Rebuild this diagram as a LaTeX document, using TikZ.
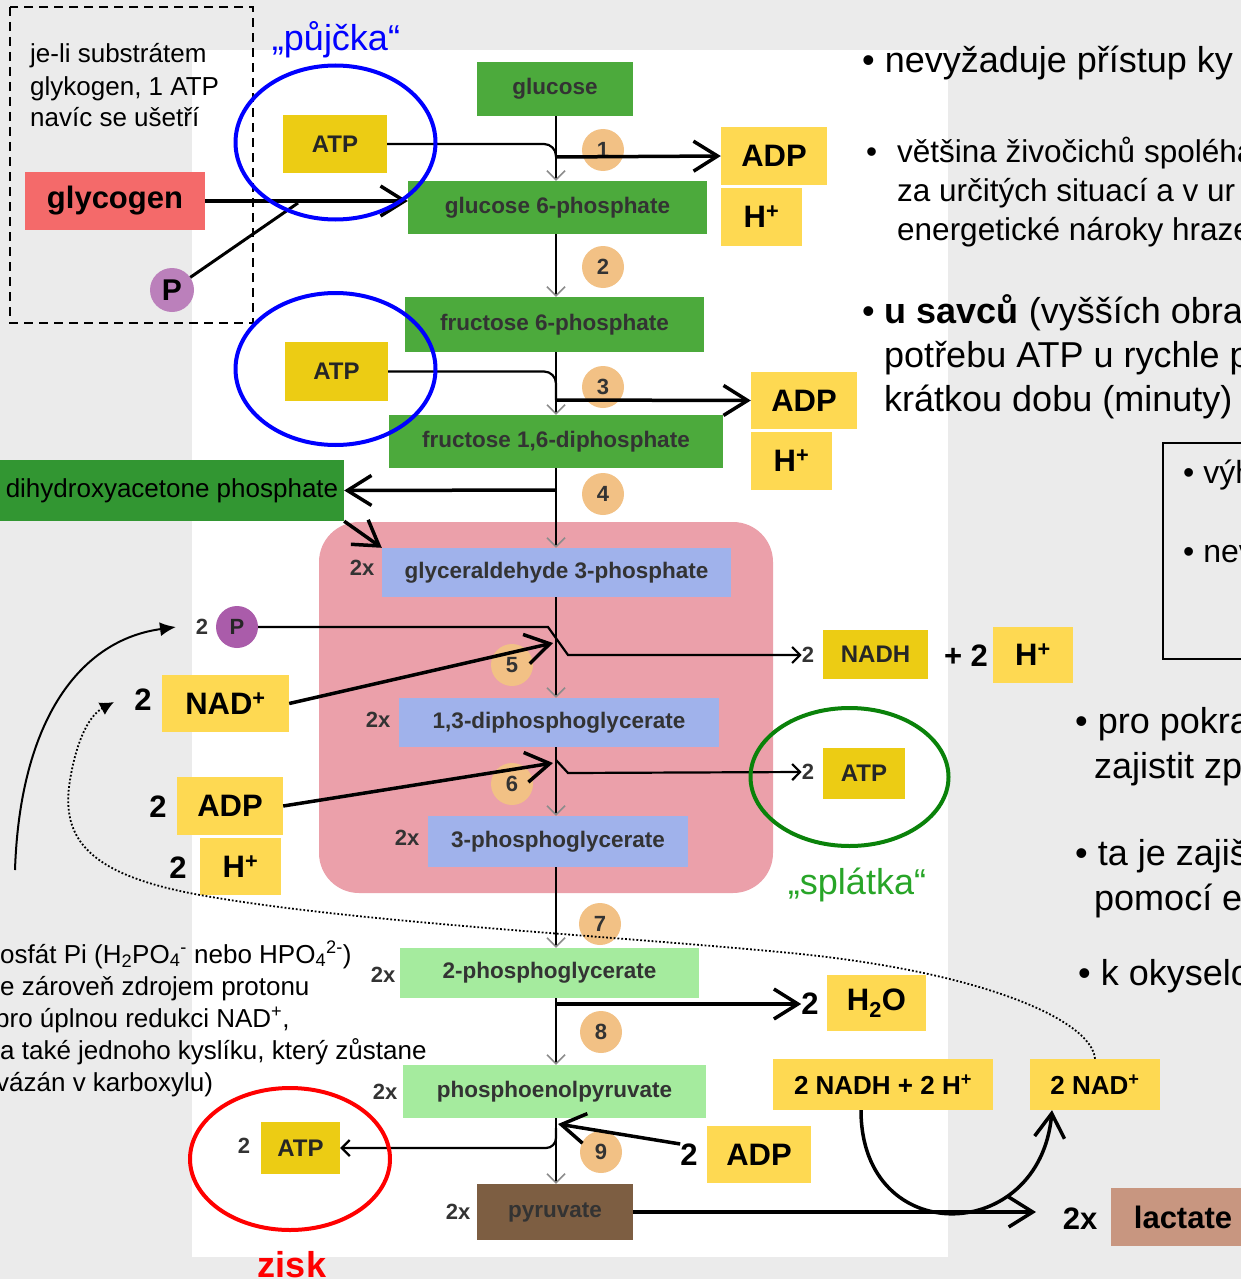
\documentclass[tikz,border=0pt]{standalone}
\usepackage{fontspec}
\setmainfont{Liberation Sans}
\usetikzlibrary{arrows.meta}

\definecolor{bggray}{RGB}{235,235,235}
\definecolor{glcgreen}{RGB}{76,170,60}
\definecolor{dhapgreen}{RGB}{50,150,50}
\definecolor{pinkbg}{RGB}{235,160,170}
\definecolor{lavender}{RGB}{160,178,235}
\definecolor{palegreen}{RGB}{165,235,158}
\definecolor{pyrbrown}{RGB}{125,94,66}
\definecolor{salmon}{RGB}{244,106,106}
\definecolor{lightyel}{RGB}{254,217,82}
\definecolor{darkyel}{RGB}{236,204,20}
\definecolor{steporange}{RGB}{242,193,133}
\definecolor{plum}{RGB}{187,128,187}
\definecolor{violetp}{RGB}{170,92,170}
\definecolor{lactan}{RGB}{200,150,128}
\definecolor{ringgreen}{RGB}{10,130,10}
\definecolor{splgreen}{RGB}{40,165,40}

\tikzset{
  wh/.style 2 args={minimum width=#1pt, minimum height=#2pt},
  metab/.style={inner sep=0pt, text=black!80, font=\fontsize{22.5}{26}\selectfont\bfseries},
  cofbig/.style={inner sep=0pt, fill=lightyel, font=\fontsize{31}{36}\selectfont\bfseries},
  cofsmall/.style={inner sep=0pt, fill=darkyel, text=black!85, font=\fontsize{24}{28}\selectfont\bfseries},
  stepno/.style={circle, fill=steporange, minimum size=42pt, inner sep=0pt, text=black!80,
    font=\fontsize{22}{26}\selectfont\bfseries},
  lbl/.style={inner sep=0pt, font=\fontsize{#1}{#1}\selectfont\bfseries},
  txt/.style={inner sep=0pt, anchor=base west, font=\fontsize{#1}{#1}\selectfont},
  spine/.style={line width=2pt, -{Straight Barb[length=9pt,width=18pt,line width=1.5pt,color=black!45]}},
  feed/.style={line width=2.2pt},
  thinarr/.style={line width=2.2pt, -{Straight Barb[length=8pt,width=16pt]}},
  heavy/.style={line width=3.5pt, -{Straight Barb[length=24pt,width=30pt]}},
  ring/.style={line width=4pt}
}

\begin{document}
\begin{tikzpicture}[x=1pt,y=-1pt]
  \useasboundingbox (0,0) rectangle (1241,1279);
  \clip (0,0) rectangle (1241,1279);
  \fill[bggray] (0,0) rectangle (1241,1279);
  \fill[white] (192,50) rectangle (948,1257);
  \fill[pinkbg, rounded corners=40pt] (319,522) rectangle (773,893);
  \draw[line width=2.6pt, dash pattern=on 9pt off 6pt] (10,7) rectangle (253,323);

  \foreach \yb/\t [count=\i] in {63/je-li substrátem, 95.5/{glykogen, 1 ATP}, 127/navíc se ušetří}
    \node[txt=26] (note\i) at (30,\yb) {\t};

  \node[metab, fill=glcgreen, wh={156}{54}] (glc) at (555,89) {glucose};
  \node[metab, fill=glcgreen, wh={299}{53}] (g6p) at (557.5,207.5) {glucose 6-phosphate};
  \node[metab, fill=glcgreen, wh={299}{55}] (f6p) at (554.5,324.5) {fructose 6-phosphate};
  \node[metab, fill=glcgreen, wh={334}{53}] (f16) at (556,441.5) {fructose 1,6-diphosphate};
  \node[inner sep=0pt, fill=dhapgreen, wh={344}{61}, font=\fontsize{26}{30}\selectfont] (dhap) at (172,490.5) {dihydroxyacetone phosphate};
  \node[metab, fill=lavender, wh={349}{49}] (g3p) at (556.5,572.5) {glyceraldehyde 3-phosphate};
  \node[metab, fill=lavender, wh={320}{49}] (dpg) at (559,722.5) {1,3-diphosphoglycerate};
  \node[metab, fill=lavender, wh={260}{51}] (pg3) at (558,841.5) {3-phosphoglycerate};
  \node[metab, fill=palegreen, wh={299}{50}] (pg2) at (549.5,973) {2-phosphoglycerate};
  \node[metab, fill=palegreen, wh={303}{53}] (pep) at (554.5,1091.5) {phosphoenolpyruvate};
  \node[metab, fill=pyrbrown, wh={156}{56}] (pyr) at (555,1212) {pyruvate};

  \foreach \x/\y [count=\i] in {362/568, 378/720, 407/838, 383/975, 385/1092, 458/1212}
    \node[lbl=22, text=black!80] (twox\i) at (\x,\y) {2x};

  \node[inner sep=0pt, fill=salmon, wh={180}{58}, font=\fontsize{31}{36}\selectfont\bfseries] (glycogen) at (115,201) {glycogen};
  \node[circle, fill=plum, minimum size=44pt, inner sep=0pt, font=\fontsize{30}{34}\selectfont\bfseries] (p1) at (172,290) {P};
  \node[cofsmall, wh={104}{58}] (atp1) at (335,144) {ATP};
  \node[cofsmall, wh={103}{59}] (atp2) at (336.5,371.5) {ATP};
  \node[cofbig, wh={106}{58}] (adp1) at (774,156) {ADP};
  \node[cofbig, wh={81}{58}] (hp1) at (761.5,217) {H\textsuperscript{+}};
  \node[cofbig, wh={106}{57}] (adp2) at (804,400.5) {ADP};
  \node[cofbig, wh={81}{58}] (hp2) at (791.5,461) {H\textsuperscript{+}};

  \node[lbl=22, text=black!80] (two5p) at (202,627) {2};
  \node[circle, fill=violetp, minimum size=42pt, inner sep=0pt, text=black!85, font=\fontsize{22}{26}\selectfont\bfseries] (p5) at (237,627) {P};
  \node[lbl=31] (two5n) at (143,700) {2};
  \node[cofbig, wh={127}{57}] (nad5) at (225.5,703.5) {NAD\textsuperscript{+}};
  \node[lbl=22, text=black!80] (two5) at (808,655) {2};
  \node[cofsmall, wh={105}{49}] (nadh5) at (875.5,654.5) {NADH};
  \node[lbl=31] (plus5) at (966,656) {+ 2};
  \node[cofbig, wh={80}{56}] (hp5) at (1033,655) {H\textsuperscript{+}};

  \node[lbl=31] (two6a) at (158,807) {2};
  \node[cofbig, wh={106}{58}] (adp6) at (230,806) {ADP};
  \node[lbl=31] (two6h) at (178,868) {2};
  \node[cofbig, wh={81}{57}] (hp6) at (240.5,866.5) {H\textsuperscript{+}};
  \node[lbl=22, text=black!80] (two6) at (808,772) {2};
  \node[cofsmall, wh={82}{51}] (atp6) at (864,773.5) {ATP};

  \node[lbl=31] (two8) at (810,1004) {2};
  \node[cofbig, wh={99}{56}] (h2o) at (876.5,1003) {H\textsubscript{2}O};
  \node[lbl=31] (two9) at (689,1155) {2};
  \node[cofbig, wh={104}{57}] (adp9) at (759,1154.5) {ADP};
  \node[lbl=22, text=black!80] (two9a) at (244,1146) {2};
  \node[cofsmall, wh={79}{52}] (atp9) at (300.5,1148) {ATP};

  \node[cofbig, wh={220}{51}, font=\fontsize{26}{30}\selectfont\bfseries] (nadh2) at (883,1084.5) {2 NADH + 2 H\textsuperscript{+}};
  \node[cofbig, wh={130}{51}, font=\fontsize{26}{30}\selectfont\bfseries] (nadp2) at (1095,1084.5) {2 NAD\textsuperscript{+}};
  \node[lbl=31] (two10) at (1080,1219) {2x};
  \node[inner sep=0pt, fill=lactan, wh={144}{58}, font=\fontsize{31}{36}\selectfont\bfseries] (lac) at (1183,1217) {lactate};

  \foreach \n/\x/\y in {1/603/150, 2/603/267, 3/603/387, 4/603/494, 5/512/665, 6/512/784, 7/600/924, 8/601/1032, 9/601/1152}
    \node[stepno] (st\n) at (\x,\y) {\n};

  \coordinate (sp) at (556,0);
  \foreach \a/\b in {glc/g6p, g6p/f6p, f6p/f16, f16/g3p, g3p/dpg, dpg/pg3, pg3/pg2, pg2/pep, pep/pyr}
    \draw[spine] (\a.south -| sp) -- (\b.north -| sp);

  \coordinate (pj) at (298,203);
  \draw[heavy] (glycogen.east) -- (glycogen.east -| g6p.west);
  \draw[line width=3pt] (p1) -- (pj);

  \coordinate (s1) at (556,157);
  \draw[feed, rounded corners=12pt] (atp1.east) -| (s1);
  \draw[heavy] (s1) -- (adp1.west);
  \coordinate (s3) at (556,400);
  \draw[feed, rounded corners=12pt] (atp2.east) -| (s3);
  \draw[heavy] (s3) -- (adp2.west);
  \coordinate (s4) at (556,490);
  \draw[heavy] (s4) -- (dhap.east);
  \draw[heavy] (dhap.south east) -- (g3p.north west);

  \coordinate (s5a) at (548,627);
  \coordinate (s5b) at (568,655);
  \coordinate (s5c) at (553,643);
  \draw[thinarr] (p5.east) -- (s5a) -- (s5b) -- (two5.west);
  \draw[heavy] (nad5.east) -- (s5c);
  \coordinate (s6a) at (556,760);
  \coordinate (s6b) at (568,773);
  \coordinate (s6c) at (553,763);
  \draw[thinarr] (s6a) -- (s6b) -- (two6.west);
  \draw[heavy] (adp6.east) -- (s6c);
  \coordinate (s8) at (556,1004);
  \draw[heavy] (s8) -- (two8.west);
  \coordinate (s9a) at (556,1128);
  \coordinate (s9c) at (558,1124);
  \draw[thinarr, rounded corners=10pt] (s9a) |- (atp9.east);
  \draw[heavy] (two9.north west) -- (s9c);

  \coordinate (lacin) at (1036,1215);
  \draw[heavy] (pyr.east) -- (pyr.east -| lacin);
  \draw[heavy] ([xshift=-22pt]nadh2.south) .. controls (861,1250) and (1040,1245) .. ([xshift=-43pt]nadp2.south);

  \coordinate (pstart) at (15,870);
  \coordinate (pin) at (176,627);
  \draw[line width=2pt, -{Latex[length=16pt,width=14pt]}] (pstart) .. controls (20,720) and (80,640) .. (pin);
  \coordinate (nadin) at (114,702);
  \draw[line width=1.8pt, dotted, -{Latex[length=14pt,width=14pt]}] (nadp2.north)
    .. controls (1092,1020) and (980,970) .. (780,952)
    .. controls (600,935) and (350,922) .. (200,895)
    .. controls (90,875) and (60,840) .. (70,780)
    .. controls (77,738) and (90,715) .. (nadin);

  \draw[ring, blue] (335.5,142.5) ellipse [x radius=100pt, y radius=77pt];
  \draw[ring, blue] (335.5,369) ellipse [x radius=100pt, y radius=76pt];
  \draw[ring, ringgreen] (849.5,777) ellipse [x radius=99pt, y radius=69pt];
  \draw[ring, red] (290,1159) ellipse [x radius=100pt, y radius=71pt];

  \node[anchor=base, inner sep=0pt, text=blue, font=\fontsize{36}{40}\selectfont] (loan) at (336,51) {„půjčka“};
  \node[anchor=base, inner sep=0pt, text=splgreen, font=\fontsize{36}{40}\selectfont] (repay) at (857,894) {„splátka“};
  \node[anchor=base, inner sep=0pt, text=red, font=\fontsize{36}{40}\selectfont\bfseries] (gain) at (292,1277) {zisk};

  \foreach \x/\yb/\t [count=\i] in {862/73/{• nevyžaduje přístup ky}, 862/323/{• \textbf{u savců} (vyšších obra},
      884/367/{potřebu ATP u rychle p}, 884/411/{krátkou dobu (minuty)}, 1075/733/{• pro pokra},
      1094/778/{zajistit zp}, 1075/865/{• ta je zajiš}, 1094/910/{pomocí e}, 1078/985/{• k okyselo}}
    \node[txt=36] (rt\i) at (\x,\yb) {\t};
  \node[txt=31.5] (dot2) at (866,162) {•};
  \foreach \yb/\t [count=\i] in {162/většina živočichů spoléha, 201/za určitých situací a v ur, 240/energetické nároky hraze}
    \node[txt=31.5] (mid\i) at (897,\yb) {\t};
  \draw[line width=2.5pt] (1163,443) rectangle (1260,659);
  \node[txt=32] (bx1) at (1183,483) {• výh};
  \node[txt=32] (bx2) at (1183,562) {• nev};

  \foreach \x/\yb/\t [count=\i] in {0/963/{osfát Pi (H\textsubscript{2}PO\textsubscript{4}\textsuperscript{-} nebo HPO\textsubscript{4}\textsuperscript{2-})},
      0/995/{e zároveň zdrojem protonu}, -5/1027/{pro úplnou redukci NAD\textsuperscript{+},},
      0/1059/{a také jednoho kyslíku, který zůstane}, -4/1091/{vázán v karboxylu)}}
    \node[txt=26] (pi\i) at (\x,\yb) {\t};
\end{tikzpicture}
\end{document}
